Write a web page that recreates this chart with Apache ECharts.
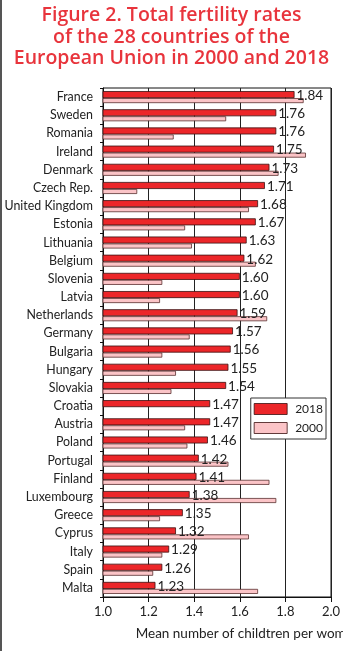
<!DOCTYPE html>
<html><head><meta charset="utf-8">
<script src="https://cdn.jsdelivr.net/npm/echarts@6/dist/echarts.min.js"></script>
<style>html,body{margin:0;padding:0;background:#fff}#c{width:343px;height:651px}</style>
</head><body><div id="c"></div>
<script>
const countries = ["France","Sweden","Romania","Ireland","Denmark","Czech Rep.","United Kingdom","Estonia","Lithuania","Belgium","Slovenia","Latvia","Netherlands","Germany","Bulgaria","Hungary","Slovakia","Croatia","Austria","Poland","Portugal","Finland","Luxembourg","Greece","Cyprus","Italy","Spain","Malta"];
const values2018 = [1.84,1.76,1.76,1.75,1.73,1.71,1.68,1.67,1.63,1.62,1.60,1.60,1.59,1.57,1.56,1.55,1.54,1.47,1.47,1.46,1.42,1.41,1.38,1.35,1.32,1.29,1.26,1.23];
const values2000 = [1.88,1.54,1.31,1.89,1.77,1.15,1.64,1.36,1.39,1.67,1.26,1.25,1.72,1.38,1.26,1.32,1.30,null,1.36,1.37,1.55,1.73,1.76,1.25,1.64,1.26,1.22,1.68];
const xTicks = [1.0,1.2,1.4,1.6,1.8,2.0];
const titleLines = ["Figure 2. Total fertility rates","of the 28 countries of the","European Union in 2000 and 2018"];

const chart = echarts.init(document.getElementById('c'));
const font = 'Lato, "Open Sans", sans-serif';
chart.setOption({
  animation: false,
  title: {
    text: titleLines.join('\n'),
    left: 'center', top: 0,
    textStyle: {fontFamily: '"Open Sans", sans-serif', fontWeight: 600, fontSize: 19.5, lineHeight: 21.5, color: '#e8343c'}
  },
  legend: {
    data: ['2018','2000'],
    orient: 'vertical',
    right: 17, top: 398,
    icon: 'rect',
    itemWidth: 33, itemHeight: 11, itemGap: 7,
    padding: [5,3,5,3],
    backgroundColor: '#fff', borderColor: '#333', borderWidth: 1, borderRadius: 0,
    itemStyle: {borderColor: '#3a1010', borderWidth: 0.8},
    textStyle: {fontFamily: font, fontSize: 12, lineHeight: 11, color: '#222', padding: [0,0,0,3]}
  },
  grid: {left: 103, right: 12, top: 88, bottom: 54, outerBoundsMode: 'none', containLabel: false, show: true, borderColor: '#111', borderWidth: 1, backgroundColor: 'transparent'},
  xAxis: {
    type: 'value', min: 1.0, max: 2.0, interval: 0.2,
    axisLine: {show: true, lineStyle: {color: '#111'}},
    axisTick: {show: true, length: 5, lineStyle: {color: '#111'}},
    splitLine: {show: true, lineStyle: {color: '#222', width: 1}},
    axisLabel: {fontFamily: font, fontSize: 13, color: '#222', margin: 8, hideOverlap: false, formatter: v => xTicks.includes(+v.toFixed(1)) ? v.toFixed(1) : ''},
    name: 'Mean number of childtren per women',
    nameLocation: 'middle', nameGap: 30,
    nameTextStyle: {fontFamily: font, fontSize: 13.5, color: '#222', padding: [0,0,0,62]}
  },
  yAxis: {
    type: 'category', data: countries, inverse: true,
    axisLine: {show: true, lineStyle: {color: '#111'}},
    axisTick: {show: true, length: 3, inside: false, lineStyle: {color: '#111'}},
    axisLabel: {fontFamily: font, fontSize: 12.4, color: '#222', margin: 10, interval: 0}
  },
  series: [
    {name: '2018', type: 'bar', data: values2018, barWidth: 7, barGap: '0%',
     itemStyle: {color: '#ec2629', borderColor: '#3a1010', borderWidth: 0.8},
     label: {show: true, position: 'right', distance: 2, offset: [0, 1], fontFamily: font, fontSize: 13.5, color: '#222', formatter: p => p.value.toFixed(2)}},
    {name: '2000', type: 'bar', data: values2000, barWidth: 5, barGap: '0%',
     itemStyle: {color: '#fbc4c7', borderColor: '#5a3030', borderWidth: 0.8}}
  ],
  graphic: [{type: 'rect', shape: {x: 0, y: 0, width: 2, height: 651}, style: {fill: '#555'}}]
});
</script></body></html>
